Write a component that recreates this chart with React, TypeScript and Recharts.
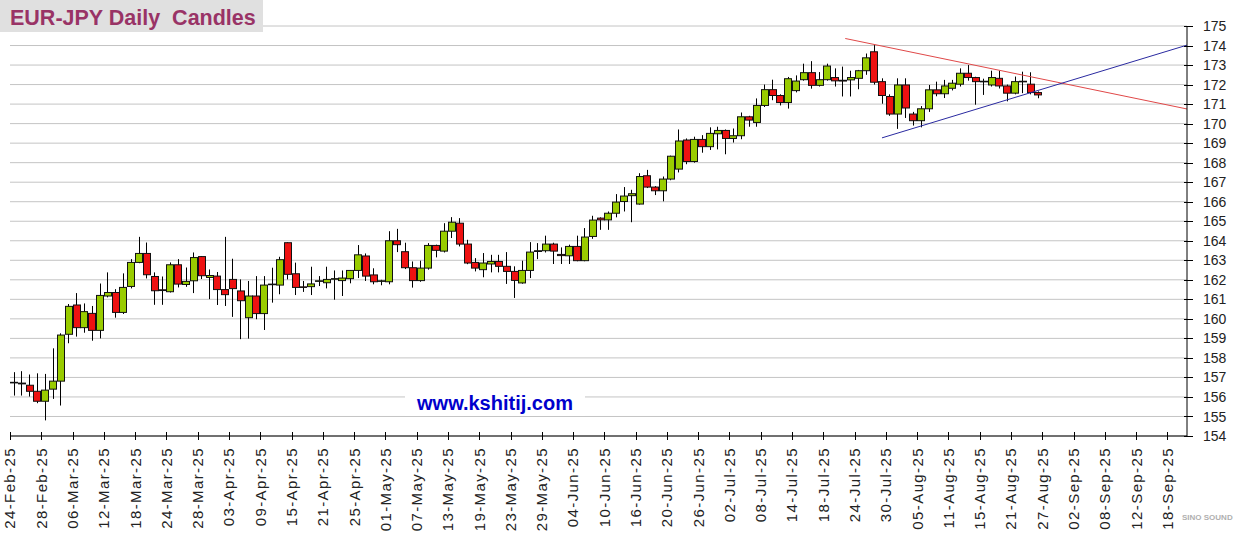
import React from 'react';
import { ComposedChart, Bar, XAxis, YAxis, CartesianGrid, ReferenceLine } from 'recharts';

const TICK_LABELS = [
  '24-Feb-25', '28-Feb-25', '06-Mar-25', '12-Mar-25', '18-Mar-25', '24-Mar-25', '28-Mar-25',
  '03-Apr-25', '09-Apr-25', '15-Apr-25', '21-Apr-25', '25-Apr-25', '01-May-25', '07-May-25',
  '13-May-25', '19-May-25', '23-May-25', '29-May-25', '04-Jun-25', '10-Jun-25', '16-Jun-25',
  '20-Jun-25', '26-Jun-25', '02-Jul-25', '08-Jul-25', '14-Jul-25', '18-Jul-25', '24-Jul-25',
  '30-Jul-25', '05-Aug-25', '11-Aug-25', '15-Aug-25', '21-Aug-25', '27-Aug-25', '02-Sep-25',
  '08-Sep-25', '12-Sep-25', '18-Sep-25',
];
const DAYS_PER_TICK = 4;
const X_MAX = 150.5;

const Y_TICKS = [154, 155, 156, 157, 158, 159, 160, 161, 162, 163, 164, 165, 166, 167, 168, 169, 170, 171, 172, 173, 174, 175];

const OPEN = [
  156.75, 156.71, 156.60, 156.29, 155.78, 156.40, 156.81, 159.21, 160.71, 159.55,
  160.28, 159.41, 161.17, 161.35, 160.33, 161.66, 162.89, 163.35, 162.17, 161.49,
  161.39, 162.77, 161.76, 161.95, 163.19, 162.12, 162.19, 161.50, 162.02, 161.43,
  160.06, 161.17, 160.27, 161.75, 161.73, 163.90, 162.31, 161.64, 161.65, 161.93,
  161.85, 162.04, 161.96, 162.06, 162.48, 163.22, 162.25, 161.93, 161.90, 164.00,
  163.44, 162.62, 161.96, 162.60, 163.76, 163.47, 164.49, 164.90, 163.83, 162.89,
  162.52, 162.81, 162.94, 162.69, 162.43, 161.84, 162.48, 163.45, 163.49, 163.83,
  163.30, 163.23, 163.71, 162.98, 164.22, 165.16, 165.07, 165.41, 166.01, 166.31,
  165.88, 167.33, 166.75, 166.56, 167.16, 167.67, 169.16, 168.06, 169.19, 168.82,
  169.48, 169.65, 169.24, 169.38, 170.35, 170.06, 170.93, 171.74, 171.44, 171.08,
  171.69, 172.25, 172.61, 171.96, 172.25, 172.36, 172.22, 172.24, 172.32, 172.71,
  173.68, 172.15, 171.39, 170.49, 171.98, 170.49, 170.15, 170.76, 171.73, 171.53,
  171.81, 172.02, 172.58, 172.36, 172.17, 171.98, 172.32, 171.93, 171.56, 172.17,
  172.02, 171.59,
];
const HIGH = [
  157.27, 157.32, 157.15, 157.21, 157.18, 158.49, 159.26, 160.76, 161.32, 160.79,
  160.66, 161.81, 162.38, 161.52, 162.33, 163.06, 164.20, 163.91, 162.38, 162.17,
  162.89, 163.06, 162.63, 163.40, 163.22, 162.53, 162.40, 164.20, 163.08, 162.02,
  161.94, 162.19, 162.19, 162.62, 163.18, 163.92, 162.88, 161.94, 162.67, 162.19,
  162.67, 162.48, 162.48, 162.50, 163.78, 163.35, 162.59, 162.00, 164.49, 164.61,
  163.90, 162.94, 162.98, 163.88, 163.80, 164.90, 165.21, 165.16, 164.05, 163.11,
  163.37, 163.28, 163.28, 163.42, 162.69, 162.98, 163.93, 163.88, 164.26, 163.90,
  163.66, 163.80, 164.26, 164.65, 165.28, 165.20, 165.50, 166.39, 166.75, 166.61,
  167.46, 167.63, 166.80, 167.29, 168.36, 169.70, 169.24, 169.33, 169.41, 169.81,
  169.84, 169.70, 169.75, 170.57, 170.40, 171.29, 172.00, 172.25, 171.50, 172.39,
  172.47, 173.07, 173.20, 172.64, 173.07, 172.83, 172.92, 172.71, 172.75, 173.59,
  174.02, 172.32, 171.50, 172.32, 172.32, 170.60, 170.90, 171.98, 172.15, 172.24,
  172.24, 172.83, 173.00, 172.40, 172.30, 172.71, 172.71, 172.00, 172.41, 172.66,
  172.63, 171.65,
];
const LOW = [
  156.07, 156.07, 156.02, 155.68, 154.80, 155.90, 155.56, 158.75, 159.09, 159.29,
  158.88, 159.00, 161.10, 160.06, 160.25, 161.56, 162.85, 162.07, 160.72, 160.72,
  161.35, 161.61, 161.64, 161.32, 162.04, 161.01, 160.71, 160.66, 160.10, 158.96,
  158.99, 159.98, 159.43, 160.83, 161.26, 162.02, 161.22, 161.38, 161.22, 161.68,
  161.56, 160.98, 161.17, 161.82, 162.09, 161.94, 161.77, 161.72, 161.77, 163.42,
  162.55, 161.60, 161.90, 162.52, 163.15, 163.40, 164.14, 163.71, 162.80, 162.43,
  162.13, 162.38, 162.38, 161.79, 161.07, 161.80, 162.09, 163.06, 163.40, 162.81,
  162.81, 162.81, 162.95, 162.95, 164.10, 164.56, 164.56, 165.20, 165.50, 164.95,
  165.85, 166.70, 166.34, 166.02, 167.10, 167.50, 167.92, 168.00, 168.51, 168.65,
  168.68, 168.43, 169.03, 169.20, 169.84, 169.84, 170.85, 171.20, 170.93, 170.77,
  171.60, 172.20, 171.79, 171.90, 172.20, 171.90, 171.39, 171.39, 171.76, 172.50,
  172.00, 171.02, 170.40, 169.73, 170.29, 169.90, 169.81, 170.60, 171.40, 171.31,
  171.70, 171.90, 172.20, 170.97, 171.47, 171.90, 171.80, 171.14, 171.50, 171.56,
  171.50, 171.30,
];
const CLOSE = [
  156.72, 156.67, 156.29, 155.78, 156.35, 156.81, 159.17, 160.64, 159.55, 160.37,
  159.41, 161.20, 161.35, 160.33, 161.61, 162.89, 163.35, 162.26, 161.44, 161.45,
  162.77, 161.78, 161.92, 163.14, 162.21, 162.22, 161.50, 161.24, 161.55, 160.93,
  161.17, 160.27, 161.73, 161.78, 163.03, 162.28, 161.61, 161.62, 161.79, 161.95,
  162.02, 162.06, 162.09, 162.48, 163.28, 162.19, 161.90, 161.95, 164.00, 163.80,
  162.62, 161.96, 162.60, 163.76, 163.51, 164.49, 164.95, 163.83, 162.86, 162.60,
  162.86, 162.94, 162.69, 162.43, 161.97, 162.48, 163.42, 163.49, 163.83, 163.47,
  163.24, 163.71, 162.98, 164.19, 165.06, 165.07, 165.41, 165.98, 166.29, 166.41,
  167.29, 166.75, 166.56, 167.16, 168.33, 169.11, 168.06, 169.19, 168.82, 169.50,
  169.65, 169.24, 169.38, 170.35, 170.18, 170.93, 171.74, 171.44, 171.08, 172.30,
  172.18, 172.61, 171.96, 172.25, 172.95, 172.19, 172.18, 172.36, 172.71, 173.37,
  172.12, 171.44, 170.49, 171.98, 170.80, 170.15, 170.76, 171.73, 171.53, 171.93,
  172.07, 172.58, 172.36, 172.15, 172.14, 172.36, 171.93, 171.56, 172.15, 172.14,
  171.59, 171.47,
];

const RED_LINE = [{ x: 106.8, y: 174.36 }, { x: 150.5, y: 170.75 }];
const BLUE_LINE = [{ x: 111.5, y: 169.27 }, { x: 150.5, y: 174.02 }];

const UP = '#99CC00';
const DOWN = '#EE1111';

const data = OPEN.map((o, i) => ({
  t: i + 0.5,
  open: o,
  high: HIGH[i],
  low: LOW[i],
  close: CLOSE[i],
  range: [LOW[i], HIGH[i]],
}));

const Candle = (props: any) => {
  const { x, y, width, height, payload } = props;
  if (!payload) return null;
  const top = Math.min(y, y + height);
  const h = Math.abs(height);
  const span = payload.high - payload.low;
  const ppu = span > 0 ? h / span : 0;
  const py = (v: number) => top + (payload.high - v) * ppu;
  const cx = Math.round(x + width / 2) + 0.5;
  const yo = py(payload.open);
  const yc = py(payload.close);
  const bt = Math.min(yo, yc);
  const bh = Math.max(Math.abs(yo - yc), 0.6);
  const up = payload.close >= payload.open;
  const bx = Math.round(x) + 0.5;
  return (
    <g>
      <line x1={cx} x2={cx} y1={top} y2={top + h} stroke="#000" strokeWidth={1} />
      <rect x={bx} y={bt} width={Math.round(width)} height={bh} fill={up ? UP : DOWN} stroke="#111" strokeWidth={1} />
    </g>
  );
};

const XTick = (props: any) => {
  const { x, y, payload } = props;
  const label = TICK_LABELS[Math.round(payload.value / DAYS_PER_TICK)];
  const px = Math.round(x) + 0.5;
  return (
    <g>
      <line x1={px} x2={px} y1={y - 4} y2={y + 4} stroke="#000" strokeWidth={1} />
      <text
        transform={`translate(${x},${y + 11}) rotate(-90)`}
        textAnchor="end"
        dy="0.36em"
        fontSize={15}
        letterSpacing={1.4}
        fontFamily="'Liberation Sans', Arial, sans-serif"
        fill="#222"
      >
        {label}
      </text>
    </g>
  );
};

const YTick = (props: any) => {
  const { x, y, payload } = props;
  const py = Math.round(y) + 0.5;
  return (
    <g>
      <line x1={x - 3} x2={x + 6} y1={py} y2={py} stroke="#000" strokeWidth={1} />
      <text x={x + 16} y={y} dy="0.36em" textAnchor="start" fontSize={14} fontFamily="'Liberation Sans', Arial, sans-serif" fill="#222">
        {payload.value}
      </text>
    </g>
  );
};

export default function App() {
  const xTicks = TICK_LABELS.map((_, i) => i * DAYS_PER_TICK);
  return (
    <div style={{ position: 'absolute', left: 0, top: 0, width: 1241, height: 542, background: '#fff', overflow: 'hidden' }}>
      <ComposedChart width={1241} height={542} data={data} margin={{ top: 26, right: 0, bottom: 0, left: 10 }}>
        <CartesianGrid horizontal vertical={false} stroke="#c4c4c4" />
        <XAxis
          dataKey="t"
          type="number"
          domain={[0, X_MAX]}
          ticks={xTicks}
          interval={0}
          height={106}
          axisLine={{ stroke: '#000' }}
          tickLine={false}
          tickSize={0}
          tickMargin={0}
          tick={<XTick />}
          allowDataOverflow
        />
        <YAxis
          orientation="right"
          type="number"
          domain={[154, 175]}
          ticks={Y_TICKS}
          interval={0}
          width={54}
          axisLine={{ stroke: '#000' }}
          tickLine={false}
          tickSize={0}
          tickMargin={0}
          tick={<YTick />}
          allowDataOverflow
        />
        <Bar dataKey="range" barSize={7} shape={<Candle />} isAnimationActive={false} />
        <ReferenceLine segment={RED_LINE} stroke="#e04848" strokeWidth={1} ifOverflow="visible" />
        <ReferenceLine segment={BLUE_LINE} stroke="#2a2aa0" strokeWidth={1} ifOverflow="visible" />
      </ComposedChart>
      <div
        style={{
          position: 'absolute', left: 0, top: 0, width: 263, height: 32, paddingLeft: 10, paddingTop: 6,
          boxSizing: 'border-box', background: '#e0e0e0', color: '#993366', fontWeight: 'bold',
          fontSize: 21.5, fontFamily: "'Liberation Sans', Arial, sans-serif", whiteSpace: 'pre', lineHeight: 'normal',
        }}
      >
        {'EUR-JPY Daily  Candles'}
      </div>
      <div
        style={{
          position: 'absolute', left: 405, top: 392, width: 180, height: 24, background: '#fff', color: '#0000cc',
          fontWeight: 'bold', fontSize: 20, fontFamily: "'Liberation Sans', Arial, sans-serif", textAlign: 'center', lineHeight: '23px',
        }}
      >
        www.kshitij.com
      </div>
      <div
        style={{
          position: 'absolute', left: 1182, top: 513, fontSize: 8, fontWeight: 'bold', color: '#b0b0b0',
          fontFamily: "'Liberation Sans', Arial, sans-serif", whiteSpace: 'nowrap',
        }}
      >
        SINO SOUND
      </div>
    </div>
  );
}
